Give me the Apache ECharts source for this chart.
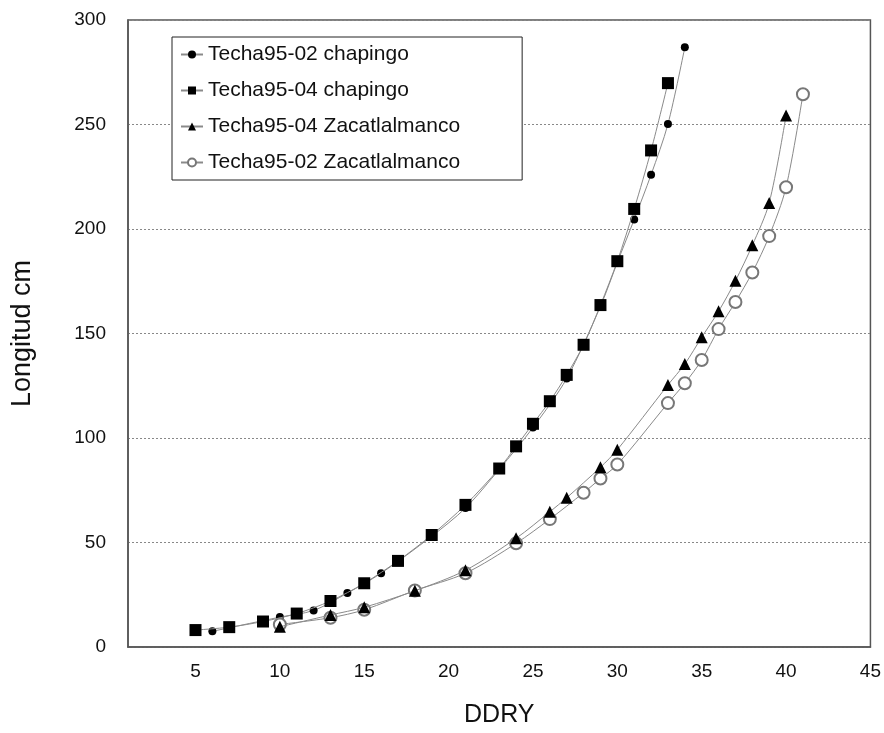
<!DOCTYPE html>
<html>
<head>
<meta charset="utf-8">
<script src="https://cdn.jsdelivr.net/npm/echarts@6/dist/echarts.min.js"></script>
<style>
  html, body { margin: 0; padding: 0; background: #fff; }
  #chart { width: 884px; height: 733px; }
</style>
</head>
<body>
<div id="chart"></div>
<script>
// valores [DDRY, longitud cm]
var chap02 = [[6, 7.5], [10, 14.3], [12, 17.5], [14, 25.8], [16, 35.3], [19, 53], [21, 66.5],
  [23, 85], [25, 105], [27, 128.5], [29, 163], [30, 184], [31, 204.6], [32, 226], [33, 250.2], [34, 287]];
var chap04 = [[5, 8.1], [7, 9.5], [9, 12.2], [11, 16], [13, 22], [15, 30.5], [17, 41.2], [19, 53.6],
  [21, 68], [23, 85.4], [24, 96], [25, 106.8], [26, 117.6], [27, 130.2], [28, 144.6], [29, 163.6],
  [30, 184.6], [31, 209.6], [32, 237.6], [33, 269.8]];
var zac04 = [[10, 9.7], [13, 15.3], [15, 19], [18, 26.9], [21, 36.7], [24, 52], [26, 64.7], [27, 71.4],
  [29, 86], [30, 94.4], [33, 125.4], [34, 135.4], [35, 148.2], [36, 160.6], [37, 175.2], [38, 192.2],
  [39, 212.5], [40, 254.3]];
var zac02 = [[10, 10.8], [13, 14], [15, 17.8], [18, 27], [21, 35.3], [24, 49.6], [26, 61.2], [28, 73.8],
  [29, 80.6], [30, 87.3], [33, 116.7], [34, 126.2], [35, 137.3], [36, 152.1], [37, 165.1], [38, 179.2],
  [39, 196.6], [40, 220], [41, 264.5]];
var xTicks = [5, 10, 15, 20, 25, 30, 35, 40, 45];
var names = ["Techa95-02 chapingo", "Techa95-04 chapingo", "Techa95-04 Zacatlalmanco", "Techa95-02 Zacatlalmanco"];

var chart = echarts.init(document.getElementById("chart"));
var font = "Liberation Sans, Arial, sans-serif";
var lineCol = "#8a8a8a";

function serie(name, data, symbol, size, z) {
  return {
    name: name,
    type: "line",
    data: data,
    symbol: symbol,
    symbolSize: size,
    smooth: 0.3,
    z: z,
    lineStyle: { color: lineCol, width: 1 },
    itemStyle: { color: symbol == "emptyCircle" ? "#777" : "#000", borderWidth: 1 }
  };
}

chart.setOption({
  animation: false,
  backgroundColor: "#fff",
  textStyle: { fontFamily: font },
  grid: {
    left: 128, right: 12, top: 20, bottom: 84,
    show: true, borderColor: "#555", borderWidth: 1.5
  },
  legend: {
    orient: "vertical",
    left: 172, top: 37,
    data: names,
    backgroundColor: "#fff",
    borderColor: "#222",
    borderWidth: 1,
    padding: [7, 62, 7, 8],
    itemWidth: 22,
    itemHeight: 10,
    itemGap: 15,
    textStyle: { fontSize: 21, color: "#111", fontFamily: font }
  },
  xAxis: {
    type: "value",
    min: 1,
    max: 45,
    name: "DDRY",
    nameLocation: "middle",
    nameGap: 56,
    nameTextStyle: { fontSize: 25, color: "#111" },
    axisLine: { show: true, lineStyle: { color: "#555", width: 1.5 } },
    axisTick: { show: false },
    splitLine: { show: false },
    axisLabel: { customValues: xTicks, fontSize: 19, color: "#111", margin: 15 }
  },
  yAxis: {
    type: "value",
    min: 0,
    max: 300,
    interval: 50,
    name: "Longitud cm",
    nameLocation: "middle",
    nameGap: 92,
    nameRotate: 90,
    nameTextStyle: { fontSize: 27, color: "#111" },
    axisLine: { show: true, lineStyle: { color: "#555", width: 1.5 } },
    axisTick: { show: false },
    splitLine: { show: true, lineStyle: { color: "#888", type: [2, 2], width: 1 } },
    axisLabel: { fontSize: 19, color: "#111", margin: 22 }
  },
  series: [
    serie(names[0], chap02, "circle", 8, 2),
    serie(names[1], chap04, "rect", 12, 3),
    serie(names[2], zac04, "triangle", 12, 3),
    serie(names[3], zac02, "emptyCircle", 12, 2)
  ]
});
</script>
</body>
</html>
